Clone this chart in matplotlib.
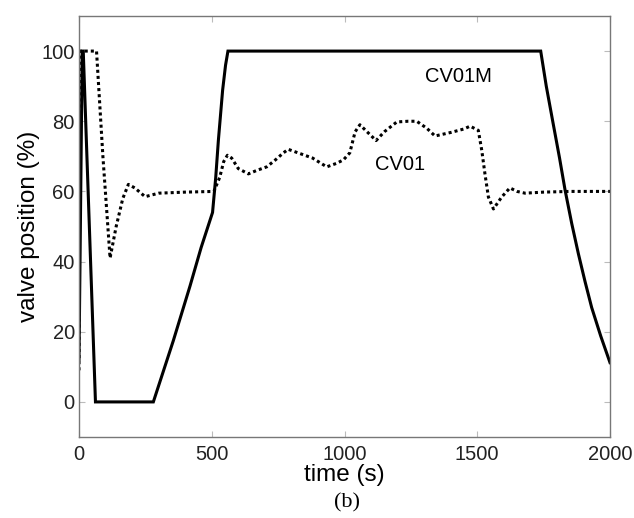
import matplotlib
matplotlib.use("Agg")
import matplotlib.pyplot as plt

# CV01M (solid)
t_cv01m = [0, 12, 16, 62, 280, 355, 418, 460, 503, 515, 525, 541, 552, 561, 1739,
           1760, 1786, 1810, 1831, 1856, 1881, 1906, 1931, 1965, 2000]
v_cv01m = [12, 100, 100, 0, 0, 17.4, 33, 44, 54, 64, 74.6, 88.9, 96, 100, 100,
           90, 79.3, 69.5, 60.3, 50.8, 42.2, 34.3, 26.9, 18.8, 11.2]

# CV01 (dotted)
t_cv01 = [0, 4, 30, 66, 90, 117, 140, 165, 186, 210, 249, 300, 400, 508, 530, 545, 559, 575,
          600, 638, 670, 707, 740, 770, 788, 832, 880, 933, 970, 996, 1020, 1040, 1058, 1085,
          1119, 1150, 1197, 1240, 1272, 1310, 1341, 1400, 1450, 1473, 1504, 1517, 1529, 1542,
          1561, 1592, 1623, 1650, 1680, 1750, 1850, 2000]
v_cv01 = [9, 100, 100, 100, 70, 41, 50, 58, 62, 61, 58.5, 59.5, 59.8, 60, 64, 68.5, 70.3, 69.5,
          66.5, 65, 66, 67, 69, 71, 72, 70.8, 69.5, 67, 68, 69, 71, 77, 79, 77,
          74.5, 77, 79.8, 80, 80, 78, 75.8, 76.8, 77.8, 78.6, 77.4, 71.7, 65, 58.4,
          55, 58.4, 61, 60, 59.5, 59.8, 60, 60]

x_ticks = [0, 500, 1000, 1500, 2000]
y_ticks = [0, 20, 40, 60, 80, 100]

plt.rcParams['font.family'] = ['Liberation Sans', 'DejaVu Sans']

fig = plt.figure(figsize=(6.34, 5.18), dpi=100)
ax = fig.add_axes([79/634, 1 - 437/518, (610-79)/634, (437-16)/518])

ax.plot(t_cv01m, v_cv01m, color='black', linewidth=2.2, solid_joinstyle='miter')
ax.plot(t_cv01, v_cv01, color='black', linewidth=2.2, linestyle=(0, (1, 1.0)))

ax.set_xlim(0, 2000)
ax.set_ylim(-10, 110)
ax.set_xticks(x_ticks)
ax.set_yticks(y_ticks)
ax.tick_params(direction='in', top=True, right=True, length=4, width=0.8,
               color='#bbbbbb', labelsize=14.5, labelcolor='#222222')
ax.tick_params(axis='y', pad=3)
ax.tick_params(axis='x', pad=6)
for s in ax.spines.values():
    s.set_color('#777777')
    s.set_linewidth(1.0)

ax.set_xlabel('time (s)', fontsize=17.5, labelpad=0)
ax.set_ylabel('valve position (%)', fontsize=17.5, labelpad=1)

ax.text(1431, 92.8, 'CV01M', fontsize=14.5, ha='center', va='center')
ax.text(1209, 67.7, 'CV01', fontsize=14.5, ha='center', va='center')

fig.text(347/634, 1 - 503/518, '(b)', fontsize=16, family='Liberation Serif',
         ha='center', va='center')

fig.savefig('out.png', dpi=100)
